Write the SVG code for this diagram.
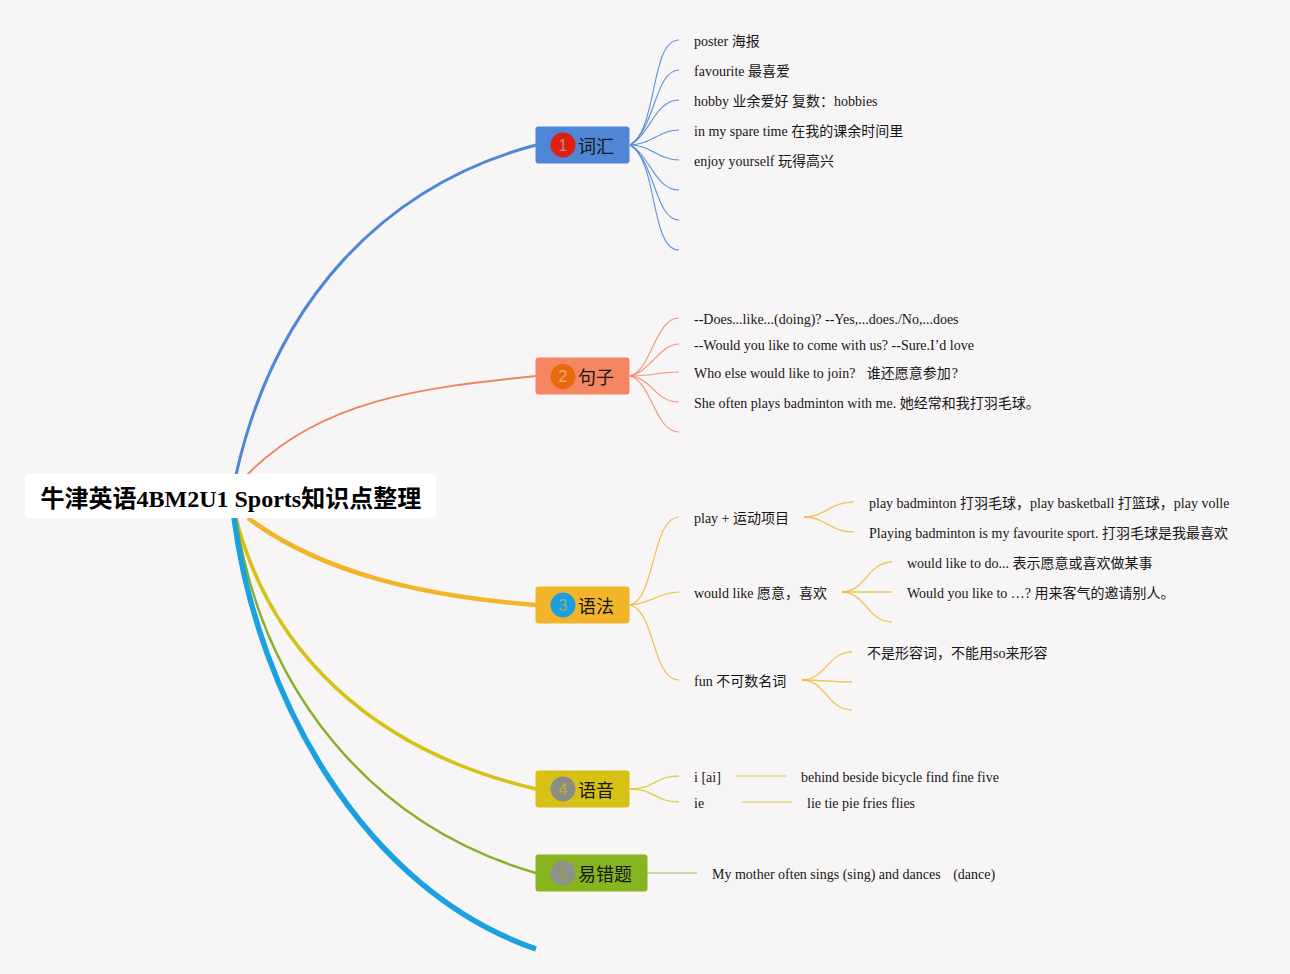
<svg xmlns="http://www.w3.org/2000/svg" width="1290" height="974" viewBox="0 0 1290 974">
<style>
text{font-family:"Liberation Serif","Noto Sans CJK SC",serif;fill:#161616}
.t{font-size:14px}
.h{font-size:18px;font-family:"Noto Sans CJK SC","Liberation Sans",sans-serif}
.n{font-size:16px;font-family:"Liberation Sans",sans-serif;text-anchor:middle}
.title{font-size:24px;font-weight:bold;fill:#000}
.main,.leaf,.sub,.dim{fill:none}
.leaf{stroke-width:1.100;stroke-opacity:.9}
.sub{stroke-width:1.300;stroke-opacity:.75}
.dim{stroke-width:1.500;stroke-opacity:.55}
</style>
<rect width="1290" height="974" fill="#f7f5f5"/>
<g id="connectors">
<path class="main" d="M236 475C275 300 385 185 536 145" stroke="#4d87d6" stroke-width="3"/>
<path class="main" d="M247 475C320 400 420 388 536 376" stroke="#ee8361" stroke-width="1.800"/>
<path class="main" d="M248 518C320 572 420 596 536 605" stroke="#f2b428" stroke-width="4.500"/>
<path class="main" d="M236 518C270 650 370 750 536 789" stroke="#d6c114" stroke-width="3.500"/>
<path class="main" d="M236 518C262 690 370 825 536 873" stroke="#87b02a" stroke-width="2.400"/>
<path class="main" d="M234 518C258 700 365 890 536 949" stroke="#19a1e0" stroke-width="5.500"/>
<g stroke="#4d87d6">
<path class="leaf" d="M630 145C658 130 650 40 679 40"/><path class="leaf" d="M630 145C655 130 655 70 679 70"/><path class="leaf" d="M630 145C650 135 655 100 679 100"/><path class="leaf" d="M630 145C650 145 660 130 679 130"/><path class="leaf" d="M630 145C650 145 660 160 679 160"/><path class="leaf" d="M630 145C650 155 655 190 679 190"/><path class="leaf" d="M630 145C655 160 655 220 679 220"/><path class="leaf" d="M630 145C658 160 650 250 679 250"/>
</g>
<g stroke="#f08a68">
<path class="leaf" d="M630 376C652 370 655 318 679 318"/><path class="leaf" d="M630 376C650 372 660 344 679 344"/><path class="leaf" d="M630 376C650 376 660 372 679 372"/><path class="leaf" d="M630 376C652 378 655 402 679 402"/><path class="leaf" d="M630 376C652 382 655 432 679 432"/>
</g>
<g stroke="#f2b428">
<path class="leaf" d="M630 605C655 600 652 517 679 517"/><path class="leaf" d="M630 605C650 604 660 592 679 592"/><path class="leaf" d="M630 605C655 610 652 680 679 680"/>
<path class="sub" d="M804 517C825 517 830 502 854 502"/><path class="sub" d="M804 517C825 517 830 532 854 532"/>
<path class="sub" d="M842 592C865 592 868 562 892 562"/><path class="sub" d="M842 592H892"/><path class="sub" d="M842 592C865 592 868 622 892 622"/>
<path class="sub" d="M802 680C825 680 828 652 852 652"/><path class="sub" d="M802 680C825 680 828 682 852 682"/><path class="sub" d="M802 680C825 680 828 710 852 710"/>
</g>
<g stroke="#d6c114">
<path class="sub" d="M630 789C655 789 655 776 679 776"/><path class="sub" d="M630 789C655 789 655 802 679 802"/>
<path class="dim" d="M736 776H786"/><path class="dim" d="M742 802H792"/>
</g>
<path class="dim" d="M647 873H697" stroke="#87b51f"/>
</g>
<g id="root"><rect x="25" y="474" width="411" height="44" rx="5" fill="#fff"/><text class="title" x="40.500" y="507">牛津英语4BM2U1 Sports知识点整理</text></g>
<g id="topic1"><rect x="535.500" y="126.500" width="94" height="37" rx="3" fill="#4d87d6"/><circle cx="563" cy="145" r="12.500" fill="#dd1f0d"/><text class="n" x="563" y="151" style="fill:#c88a80">1</text><text class="h" x="578" y="153">词汇</text></g>
<g id="topic2"><rect x="535.500" y="357.500" width="94" height="37" rx="3" fill="#f58662"/><circle cx="563" cy="376.500" r="12.500" fill="#e9680c"/><text class="n" x="563" y="382" style="fill:#f4a878">2</text><text class="h" x="578" y="384">句子</text></g>
<g id="topic3"><rect x="535.500" y="586.500" width="94" height="37" rx="3" fill="#f2b428"/><circle cx="563" cy="605" r="12.500" fill="#1b9ee0"/><text class="n" x="563" y="611" style="fill:#8bb08a">3</text><text class="h" x="578" y="613">语法</text></g>
<g id="topic4"><rect x="535.500" y="770.500" width="94" height="37" rx="3" fill="#d6c114"/><circle cx="563" cy="789" r="12.500" fill="#8c8c88"/><text class="n" x="563" y="795" style="fill:#c0ac30">4</text><text class="h" x="578" y="797">语音</text></g>
<g id="topic5"><rect x="535.500" y="854.500" width="112" height="37" rx="3" fill="#87b51f"/><circle cx="563" cy="873" r="12.500" fill="#8f928a"/><text class="n" x="563" y="879" style="fill:#8f9a40">5</text><text class="h" x="578" y="881">易错题</text></g>
<g id="leaf1"><text class="t" x="694" y="46">poster 海报</text></g>
<g id="leaf2"><text class="t" x="694" y="76">favourite 最喜爱</text></g>
<g id="leaf3"><text class="t" x="694" y="106">hobby 业余爱好 复数：hobbies</text></g>
<g id="leaf4"><text class="t" x="694" y="136">in my spare time 在我的课余时间里</text></g>
<g id="leaf5"><text class="t" x="694" y="166">enjoy yourself 玩得高兴</text></g>
<g id="leaf6"><text class="t" x="694" y="324">--Does...like...(doing)? --Yes,...does./No,...does</text></g>
<g id="leaf7"><text class="t" x="694" y="350">--Would you like to come with us? --Sure.I’d love</text></g>
<g id="leaf8"><text class="t" x="694" y="378" xml:space="preserve">Who else would like to join?   <tspan dx="1">谁还愿意参加</tspan><tspan dx="1">?</tspan></text></g>
<g id="leaf9"><text class="t" x="694" y="408">She often plays badminton with me. 她经常和我打羽毛球。</text></g>
<g id="leaf10"><text class="t" x="694" y="523">play + 运动项目</text></g>
<g id="leaf11"><text class="t" x="694" y="598">would like 愿意，喜欢</text></g>
<g id="leaf12"><text class="t" x="694" y="686">fun 不可数名词</text></g>
<g id="leaf13"><text class="t" x="869" y="508">play badminton 打羽毛球，play basketball 打篮球，play volle</text></g>
<g id="leaf14"><text class="t" x="869" y="538">Playing badminton is my favourite sport. 打羽毛球是我最喜欢</text></g>
<g id="leaf15"><text class="t" x="907" y="568">would like to do... 表示愿意或喜欢做某事</text></g>
<g id="leaf16"><text class="t" x="907" y="598">Would you like to …? 用来客气的邀请别人。</text></g>
<g id="leaf17"><text class="t" x="867" y="658">不是形容词，不能用so来形容</text></g>
<g id="leaf18"><text class="t" x="694" y="782">i [ai]</text></g>
<g id="leaf19"><text class="t" x="694" y="808">ie</text></g>
<g id="leaf20"><text class="t" x="801" y="782">behind beside bicycle find fine five</text></g>
<g id="leaf21"><text class="t" x="807" y="808">lie tie pie fries flies</text></g>
<g id="leaf22"><text class="t" x="712" y="879" xml:space="preserve">My mother often sings (sing) and dances   <tspan dx="2">(dance)</tspan></text></g>
</svg>
